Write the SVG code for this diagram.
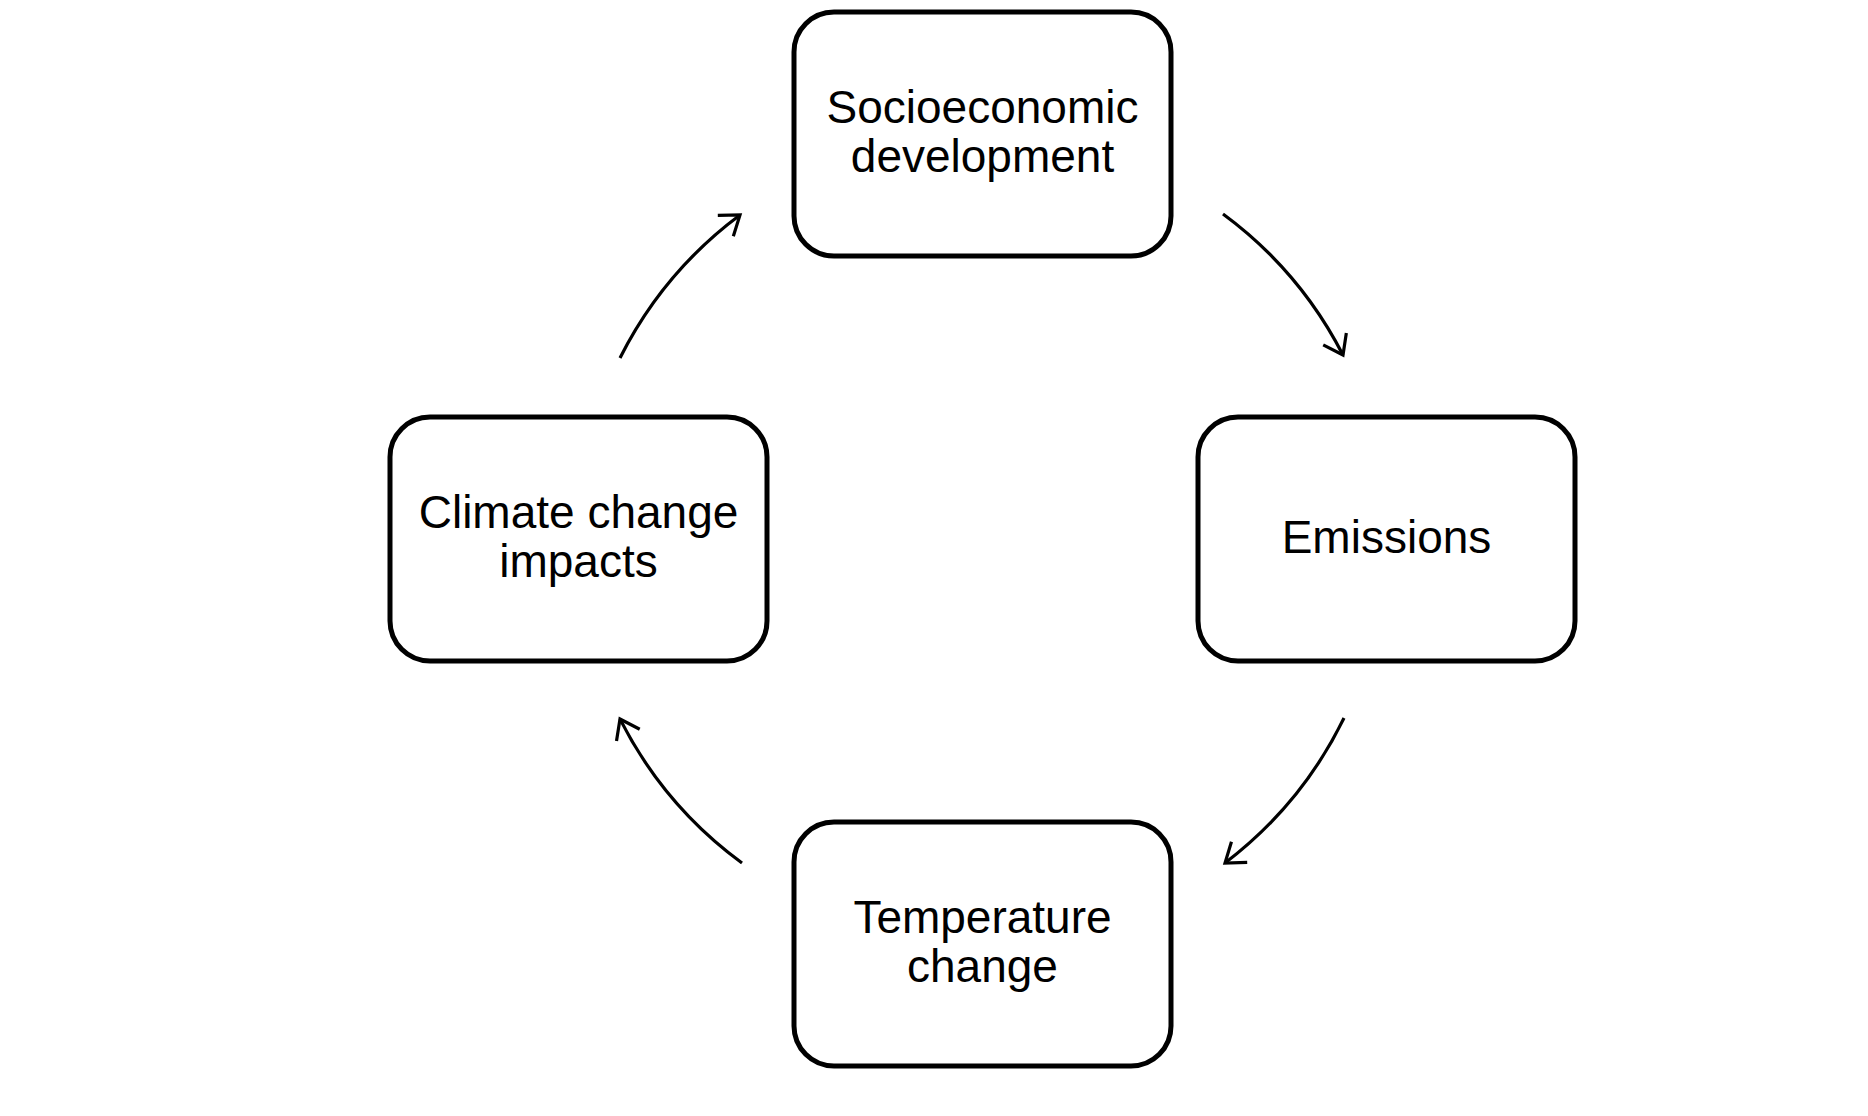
<svg xmlns="http://www.w3.org/2000/svg" width="1868" height="1116" viewBox="0 0 1868 1116">
  <style>
    .box { fill: #ffffff; stroke: #000000; stroke-width: 5; }
    .label { font-family: "Liberation Sans", Arial, sans-serif; font-size: 46px; fill: #000000; text-anchor: middle; }
    .conn { fill: none; stroke: #000000; stroke-width: 3.2; }
  </style>
  <defs>
    <marker id="arrow" markerUnits="userSpaceOnUse" viewBox="-30 -20 40 40" markerWidth="40" markerHeight="40" refX="0" refY="0" orient="auto" overflow="visible">
      <path d="M -18,-13 L 0,0 L -18,13" fill="none" stroke="#000000" stroke-width="3.2" stroke-linejoin="miter"/>
    </marker>
  </defs>
  <rect width="1868" height="1116" fill="#ffffff"/>

  <g id="connectors">
    <path class="conn" d="M 1223,214 A 405 405 0 0 1 1343,355" marker-end="url(#arrow)"/>
    <path class="conn" d="M 1344,718 A 405 405 0 0 1 1225,863" marker-end="url(#arrow)"/>
    <path class="conn" d="M 742,863 A 405 405 0 0 1 620,719" marker-end="url(#arrow)"/>
    <path class="conn" d="M 620,358 A 405 405 0 0 1 740,215" marker-end="url(#arrow)"/>
  </g>

  <g id="node-socioeconomic">
    <rect class="box" x="794" y="12" width="377" height="244" rx="40" ry="40"/>
    <text class="label" x="982.5" y="123">Socioeconomic</text>
    <text class="label" x="982.5" y="172">development</text>
  </g>

  <g id="node-emissions">
    <rect class="box" x="1198" y="417" width="377" height="244" rx="40" ry="40"/>
    <text class="label" x="1386.5" y="553">Emissions</text>
  </g>

  <g id="node-temperature">
    <rect class="box" x="794" y="822" width="377" height="244" rx="40" ry="40"/>
    <text class="label" x="982.5" y="933">Temperature</text>
    <text class="label" x="982.5" y="982">change</text>
  </g>

  <g id="node-impacts">
    <rect class="box" x="390" y="417" width="377" height="244" rx="40" ry="40"/>
    <text class="label" x="578.5" y="528">Climate change</text>
    <text class="label" x="578.5" y="577">impacts</text>
  </g>
</svg>
